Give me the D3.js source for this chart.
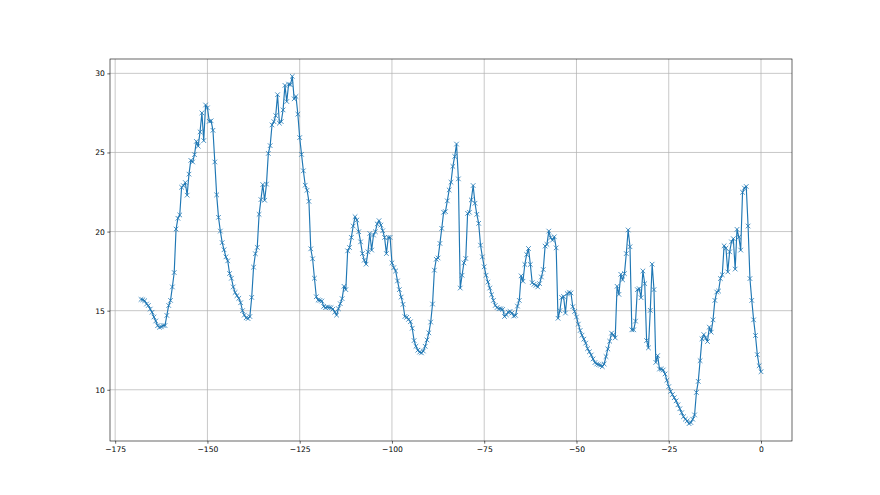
<!DOCTYPE html>
<html>
<head>
<meta charset="utf-8">
<script src="https://cdn.jsdelivr.net/npm/d3@7"></script>
<style>
  body { margin: 0; background: #fff; }
  svg { display: block; }
  text { font-family: "DejaVu Sans", sans-serif; font-size: 7.6px; fill: #000; }
</style>
</head>
<body>
<svg id="chart" width="880" height="495"></svg>
<script>
// readings every half hour, hours before now (-168 .. 0), split in chunks
const segStarts = [-168, -145.5, -119.5, -95.5, -70.5, -46, -22.5];

const segA = [15.71, 15.69, 15.63, 15.42, 15.33, 15.1, 14.9, 14.6, 14.35, 14.05,
  13.95, 13.98, 14.06, 14.06, 14.7, 15.33, 15.65, 16.5, 17.41, 20.16,
  20.84, 21.05, 22.8, 22.9, 23.1, 22.3, 23.63, 24.5, 24.4, 24.86,
  25.7, 25.4, 26.3, 27.5, 25.75, 28.0, 27.82, 26.97, 27.0, 26.4,
  24.4, 22.32, 20.9, 20.03, 19.3];

const segB = [18.85, 18.4, 18.15, 17.35, 17.05, 16.5, 16.15, 15.95, 15.78, 15.5,
  15.0, 14.72, 14.55, 14.5, 14.63, 15.84, 17.75, 18.6, 19.0, 21.09,
  22.02, 22.97, 21.98, 23.0, 24.94, 25.43, 26.74, 26.95, 27.33, 28.65,
  26.85, 26.95, 27.69, 29.24, 28.22, 29.32, 29.28, 29.81, 28.39, 28.54,
  27.42, 25.94, 24.88, 23.84, 22.93, 22.61, 21.91, 18.91, 18.28, 17.05,
  15.88, 15.67];

const segC = [15.65, 15.61, 15.27, 15.19, 15.23, 15.2, 15.19, 15.1, 14.91, 14.72,
  15.12, 15.44, 15.76, 16.54, 16.33, 18.78, 18.99, 19.63, 20.35, 20.94,
  20.73, 19.99, 19.35, 18.61, 18.19, 17.94, 18.72, 19.88, 18.83, 19.78,
  19.99, 20.48, 20.69, 20.41, 20.05, 19.63, 18.61, 19.63, 19.63, 18.02,
  17.72, 17.51, 16.88, 16.33, 15.86, 15.4, 14.63, 14.58];

const segD = [14.45, 14.3, 13.89, 13.11, 12.75, 12.5, 12.38, 12.33, 12.45, 12.75,
  13.15, 13.6, 14.28, 15.42, 17.56, 18.25, 18.33, 19.25, 20.2, 21.22,
  21.26, 21.94, 22.63, 23.12, 24.12, 24.75, 25.53, 23.33, 16.43, 17.24,
  18.02, 18.3, 21.15, 21.22, 22.0, 22.91, 21.79, 21.09, 20.52, 19.14,
  18.4, 17.77, 17.24, 16.81, 16.43, 16.01, 15.65, 15.33, 15.2, 15.12];

const segE = [15.12, 15.08, 14.63, 14.74, 14.91, 14.95, 14.85, 14.66, 14.7, 15.29,
  15.65, 17.2, 16.86, 17.92, 18.55, 18.93, 17.92, 16.77, 16.67, 16.6,
  16.5, 16.71, 17.13, 17.6, 19.08, 19.19, 20.03, 19.61, 19.46, 19.67,
  18.97, 14.52, 15.0, 15.83, 15.9, 14.85, 16.08, 16.15, 16.12, 15.25,
  14.95, 14.6, 14.15, 13.75, 13.45, 13.2, 12.95, 12.6, 12.4];

const segF = [12.2, 11.95, 11.72, 11.63, 11.59, 11.55, 11.46, 11.63, 12.1, 12.58,
  13.07, 13.58, 13.47, 13.28, 16.54, 16.03, 17.3, 16.95, 17.34, 18.61,
  20.1, 19.04, 13.79, 13.79, 14.34, 16.33, 16.39, 15.82, 17.51, 16.71,
  13.11, 12.65, 15.02, 17.94, 16.33, 11.73, 12.16, 11.31, 11.31, 11.25,
  11.0, 10.6, 10.2, 9.9, 9.7, 9.5, 9.3];

const segG = [9.05, 8.8, 8.55, 8.3, 8.14, 8.03, 7.86, 7.93, 8.14, 8.41,
  9.83, 10.53, 11.84, 13.22, 13.49, 13.28, 13.05, 13.96, 13.64, 14.42,
  15.65, 16.18, 16.24, 17.03, 17.27, 19.1, 18.95, 17.45, 18.72, 19.35,
  19.55, 17.63, 20.14, 19.65, 18.83, 22.48, 22.75, 22.85, 20.35, 17.03,
  15.65, 14.42, 13.43, 12.22, 11.52, 11.14];

const xTicks = [-175, -150, -125, -100, -75, -50, -25, 0];
const yTicks = [10, 15, 20, 25, 30];

const data = [];
[segA, segB, segC, segD, segE, segF, segG].forEach((seg, s) => {
  seg.forEach((v, i) => data.push({ t: segStarts[s] + i * 0.5, v: v }));
});

const plotLeft = 110, plotRight = 792, plotTop = 59, plotBottom = 441;
const color = '#1f77b4';

function padded([a, b]) {
  const m = (b - a) * 0.05;
  return [a - m, b + m];
}

const x = d3.scaleLinear().domain(padded(d3.extent(data, d => d.t))).range([plotLeft, plotRight]);
const y = d3.scaleLinear().domain(padded(d3.extent(data, d => d.v))).range([plotBottom, plotTop]);

const svg = d3.select('#chart');

// grid
svg.append('g')
  .selectAll('line')
  .data(xTicks)
  .join('line')
  .attr('x1', d => x(d)).attr('x2', d => x(d))
  .attr('y1', plotTop).attr('y2', plotBottom)
  .attr('stroke', '#b0b0b0').attr('stroke-width', 0.7);

svg.append('g')
  .selectAll('line')
  .data(yTicks)
  .join('line')
  .attr('x1', plotLeft).attr('x2', plotRight)
  .attr('y1', d => y(d)).attr('y2', d => y(d))
  .attr('stroke', '#b0b0b0').attr('stroke-width', 0.7);

// line + x markers
const line = d3.line().x(d => x(d.t)).y(d => y(d.v));

svg.append('path')
  .datum(data)
  .attr('d', line)
  .attr('fill', 'none')
  .attr('stroke', color)
  .attr('stroke-width', 1.15)
  .attr('stroke-linejoin', 'round');

const ms = 2.3;
svg.append('g')
  .selectAll('path')
  .data(data)
  .join('path')
  .attr('d', d => {
    const cx = x(d.t), cy = y(d.v);
    return `M${cx - ms},${cy - ms}L${cx + ms},${cy + ms}M${cx - ms},${cy + ms}L${cx + ms},${cy - ms}`;
  })
  .attr('stroke', color)
  .attr('stroke-width', 0.8)
  .attr('fill', 'none');

// axes
const fmt = d => d3.format('d')(d).replace('-', '\u2212');

const xAxis = svg.append('g')
  .attr('transform', `translate(0,${plotBottom})`)
  .call(d3.axisBottom(x).tickValues(xTicks).tickFormat(fmt).tickSize(2.7).tickPadding(2.5));

const yAxis = svg.append('g')
  .attr('transform', `translate(${plotLeft},0)`)
  .call(d3.axisLeft(y).tickValues(yTicks).tickFormat(fmt).tickSize(2.7).tickPadding(2.5));

[xAxis, yAxis].forEach(a => {
  a.select('.domain').remove();
  a.selectAll('line').attr('stroke', '#000').attr('stroke-width', 0.6);
  a.selectAll('text').attr('font-size', null).attr('font-family', null).attr('fill', '#000');
});

svg.append('rect')
  .attr('x', plotLeft).attr('y', plotTop)
  .attr('width', plotRight - plotLeft).attr('height', plotBottom - plotTop)
  .attr('fill', 'none')
  .attr('stroke', '#000')
  .attr('stroke-width', 0.6);
</script>
</body>
</html>
